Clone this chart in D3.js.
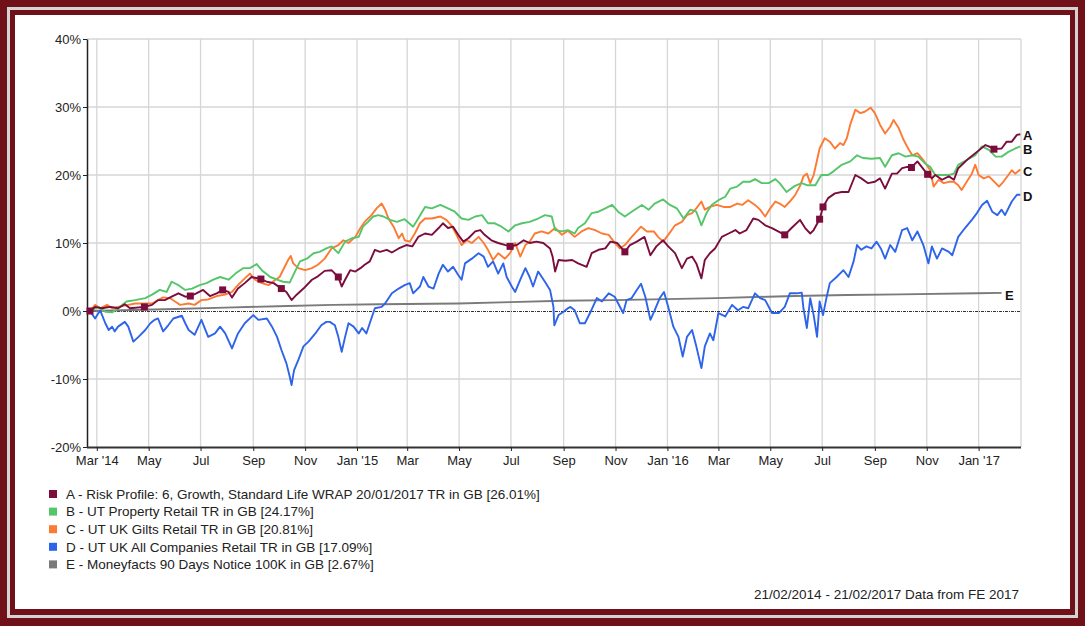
<!DOCTYPE html>
<html><head><meta charset="utf-8">
<script src="https://cdn.jsdelivr.net/npm/d3@7"></script>
<style>html,body{margin:0;padding:0;background:#701018;}svg{display:block;font-family:"Liberation Sans",Arial,sans-serif;}</style>
</head><body>
<svg id="chart" width="1085" height="626"></svg>
<script>
const startDate = "2014-02-21";
const endDate = "2017-02-21";
// [day offset from start, % value]
const seriesA = [[0,0],[6,0.6],[14,0.4],[24,0.6],[33,0.4],[41,1.0],[47,0.4],[64,0.6],[73,0.9],[80,1.6],[88,1.6],[96,2.1],[104,2.6],[112,2.1],[118,2.2],[125,2.6],[133,3.1],[141,2.2],[149,2.6],[156,3.1],[163,2.8],[167,2.0],[174,3.3],[182,4.1],[190,5.0],[201,4.7],[208,4.3],[216,4.1],[225,3.3],[231,2.8],[237,1.6],[243,2.4],[251,3.3],[261,4.6],[268,5.1],[276,5.9],[284,6.0],[292,5.0],[296,3.6],[300,4.6],[306,6.0],[312,5.8],[318,6.3],[323,6.8],[329,7.3],[335,9.0],[341,8.7],[349,9.0],[355,8.6],[363,9.2],[372,9.7],[379,9.5],[386,10.9],[394,11.4],[402,11.2],[410,12.2],[415,12.9],[421,12.2],[427,12.4],[433,11.2],[439,10.2],[445,10.7],[453,11.7],[459,11.9],[464,11.2],[472,10.4],[480,10.0],[494,9.5],[502,9.7],[510,10.4],[517,10.0],[525,10.2],[533,10.0],[541,9.2],[544,8.0],[547,5.8],[551,7.5],[559,7.4],[567,7.5],[574,7.0],[584,6.5],[590,8.5],[598,9.0],[606,9.2],[612,10.2],[620,10.0],[629,8.7],[635,9.7],[643,10.2],[652,10.9],[659,8.2],[666,9.5],[674,10.4],[680,9.5],[688,8.5],[696,6.3],[702,7.7],[708,8.0],[713,7.0],[719,4.8],[723,7.5],[729,8.5],[735,9.2],[743,10.9],[751,11.4],[759,11.9],[764,11.4],[772,11.9],[780,13.6],[786,13.4],[794,12.6],[802,12.2],[817,11.2],[825,12.2],[835,13.4],[841,12.2],[847,11.4],[851,11.9],[858,13.5],[862,15.3],[868,16.6],[876,17.3],[884,17.5],[892,17.5],[900,20.0],[907,19.5],[915,18.8],[923,19.0],[929,19.5],[935,18.0],[943,20.2],[949,20.2],[955,21.0],[961,21.2],[966,21.1],[973,22.0],[978,21.2],[985,20.1],[990,19.5],[994,20.0],[1002,19.3],[1010,19.8],[1016,19.3],[1021,21.0],[1033,22.4],[1043,23.4],[1053,24.4],[1057,24.2],[1063,23.8],[1072,23.9],[1078,24.9],[1084,24.9],[1090,25.9],[1094,26.0]];
const seriesB = [[0,0],[10,0.6],[18,-0.1],[26,-0.2],[33,0.4],[43,1.4],[53,1.6],[65,1.9],[73,2.4],[82,3.1],[90,2.8],[96,4.3],[104,3.8],[112,3.1],[120,3.3],[129,3.8],[137,4.1],[145,4.6],[153,5.0],[163,4.6],[171,5.5],[180,6.3],[188,6.3],[196,6.9],[202,6.0],[212,5.0],[220,4.6],[227,4.3],[235,4.2],[241,5.8],[247,7.3],[255,7.7],[263,8.5],[270,8.7],[278,9.2],[284,9.5],[292,8.5],[300,10.2],[308,10.7],[316,10.9],[321,12.4],[327,13.1],[333,13.9],[339,14.1],[345,13.9],[353,13.4],[361,13.1],[370,13.5],[380,12.4],[386,13.6],[394,15.3],[402,15.1],[412,15.6],[421,15.1],[429,14.6],[437,13.6],[445,13.4],[453,13.9],[461,14.1],[468,12.9],[476,12.9],[484,12.4],[492,11.7],[500,12.6],[508,12.9],[517,13.1],[527,13.6],[535,14.1],[543,13.9],[547,11.9],[555,11.7],[562,11.9],[570,11.4],[574,12.2],[582,12.9],[590,14.4],[598,14.6],[606,15.1],[614,15.6],[621,14.6],[629,13.9],[637,14.6],[649,15.6],[657,14.9],[664,15.8],[674,16.4],[682,15.6],[690,15.1],[698,13.6],[706,14.9],[713,14.6],[719,12.6],[725,14.4],[731,15.6],[739,16.3],[747,16.8],[753,18.0],[761,18.3],[768,19.0],[776,19.0],[782,19.4],[790,18.8],[798,18.8],[806,19.4],[811,18.8],[819,17.5],[829,18.4],[837,18.8],[843,18.5],[853,18.5],[860,20.0],[868,20.0],[874,20.5],[884,21.5],[894,22.0],[902,22.9],[909,22.5],[919,22.4],[929,22.5],[935,21.2],[943,22.9],[951,23.2],[959,22.7],[967,22.9],[974,22.7],[982,21.7],[988,21.2],[994,20.0],[1002,20.0],[1010,20.0],[1016,20.2],[1021,21.5],[1031,22.2],[1041,22.9],[1049,24.2],[1057,23.7],[1065,22.7],[1072,22.7],[1080,23.4],[1088,23.9],[1094,24.2]];
const seriesC = [[0,0],[6,0.9],[12,0.4],[20,0.9],[26,0.4],[33,0.6],[45,0.9],[53,1.1],[63,1.1],[73,1.1],[80,1.6],[86,2.0],[94,1.9],[100,1.4],[106,0.9],[116,1.1],[123,0.9],[131,1.6],[139,1.7],[149,2.2],[159,2.4],[167,2.8],[174,3.8],[182,4.8],[188,5.5],[194,4.6],[202,4.1],[210,3.8],[218,4.6],[223,5.0],[229,6.5],[233,7.5],[236,8.1],[239,7.0],[245,6.3],[253,6.0],[261,6.3],[268,6.8],[276,7.7],[284,9.2],[292,9.7],[298,10.4],[304,10.0],[312,10.9],[318,12.2],[323,13.1],[331,14.1],[337,15.1],[343,15.8],[347,14.9],[351,13.6],[357,12.4],[363,10.7],[367,11.4],[370,10.4],[376,10.2],[382,11.4],[388,12.9],[394,13.6],[402,13.6],[412,13.9],[419,13.4],[425,12.6],[431,11.2],[437,9.7],[443,10.4],[449,10.0],[457,10.9],[463,10.0],[468,9.0],[474,7.5],[480,8.5],[488,7.7],[494,8.5],[500,10.0],[506,8.0],[512,9.7],[517,10.2],[523,11.4],[531,11.7],[539,11.4],[547,12.2],[555,11.2],[562,11.8],[570,10.9],[578,11.7],[586,12.2],[594,11.9],[602,11.4],[610,11.2],[616,10.2],[623,9.2],[629,9.7],[637,10.9],[648,12.4],[655,11.7],[663,11.7],[668,10.9],[674,10.2],[680,11.2],[688,12.6],[696,13.1],[702,14.1],[708,14.4],[713,15.1],[719,16.1],[723,14.9],[729,15.3],[737,15.6],[745,15.3],[753,15.3],[761,15.8],[767,15.6],[774,16.3],[782,15.6],[788,14.9],[794,13.9],[800,15.1],[806,16.1],[811,15.8],[817,15.3],[823,16.1],[829,17.0],[835,18.4],[839,19.8],[843,20.2],[847,18.8],[851,20.0],[855,22.2],[858,23.9],[864,25.4],[870,24.9],[876,23.9],[882,24.7],[886,24.4],[890,25.4],[894,27.4],[900,29.6],[906,29.1],[911,29.3],[918,29.9],[923,29.1],[929,27.4],[935,26.1],[941,27.1],[945,28.1],[951,26.9],[957,25.1],[963,23.7],[967,22.9],[973,23.2],[980,22.2],[988,20.7],[992,18.3],[998,19.3],[1004,18.8],[1010,19.0],[1016,19.0],[1021,18.5],[1025,17.8],[1031,19.0],[1037,20.2],[1041,21.5],[1045,20.0],[1051,19.5],[1057,19.8],[1065,18.8],[1069,18.3],[1074,19.0],[1080,20.0],[1084,20.7],[1088,20.2],[1094,20.8]];
const seriesD = [[0,0],[6,-1.1],[12,0.1],[18,-1.8],[22,-2.8],[26,-2.3],[29,-3.0],[33,-2.3],[41,-1.6],[45,-2.3],[51,-4.5],[57,-3.8],[65,-2.8],[71,-1.8],[76,-1.3],[80,-1.1],[86,-3.0],[92,-2.1],[98,-1.1],[108,-0.7],[112,-1.8],[116,-2.8],[123,-3.5],[131,-1.3],[139,-3.8],[147,-3.3],[153,-2.3],[159,-3.3],[167,-5.5],[174,-3.3],[182,-1.8],[192,-0.6],[198,-1.3],[208,-1.1],[214,-2.3],[220,-3.8],[225,-5.7],[231,-7.7],[235,-9.7],[237,-10.9],[240,-8.7],[245,-7.2],[251,-5.2],[257,-4.5],[265,-3.3],[272,-2.1],[278,-1.6],[282,-1.6],[288,-2.1],[292,-3.8],[296,-6.0],[300,-3.8],[304,-1.8],[310,-2.3],[316,-3.3],[320,-2.5],[325,-3.3],[329,-1.8],[335,0.4],[343,0.6],[347,1.1],[355,2.6],[363,3.3],[370,3.8],[376,4.1],[380,2.6],[388,3.6],[392,5.0],[398,3.6],[404,3.3],[410,5.5],[415,6.8],[421,5.8],[427,6.5],[433,5.3],[437,4.6],[441,7.0],[449,7.7],[457,8.5],[463,8.0],[468,6.5],[474,7.3],[480,5.5],[486,7.0],[490,5.0],[496,3.6],[500,2.8],[506,4.6],[512,6.3],[517,5.0],[521,3.6],[527,5.8],[535,4.3],[541,3.1],[545,0.6],[546,-2.1],[551,-0.6],[557,-0.1],[562,0.4],[565,0.6],[570,0.1],[576,-1.8],[582,-1.8],[588,-0.3],[596,1.9],[602,1.4],[610,2.6],[617,2.1],[627,-0.3],[631,1.6],[637,1.9],[643,3.1],[648,4.0],[653,2.1],[659,-1.3],[664,0.1],[670,1.9],[675,2.8],[680,0.6],[686,-2.3],[692,-3.8],[697,-6.7],[702,-3.8],[708,-2.8],[713,-5.2],[719,-8.4],[723,-5.2],[729,-3.3],[733,-4.3],[739,-0.3],[747,-0.8],[755,0.9],[762,0.1],[768,0.6],[774,0.4],[782,2.6],[788,1.9],[794,1.6],[802,-0.3],[810,-0.3],[817,0.6],[823,2.6],[831,2.6],[837,2.7],[839,0.4],[843,-2.5],[847,1.9],[851,-0.6],[855,-3.8],[858,1.4],[862,-0.6],[866,1.9],[870,4.1],[878,5.0],[886,6.0],[892,5.0],[898,7.3],[902,9.7],[907,9.0],[913,9.5],[919,9.2],[925,10.2],[930,9.2],[935,7.7],[941,9.7],[947,8.7],[955,11.9],[961,12.2],[967,10.4],[973,11.7],[980,9.7],[986,7.0],[990,9.5],[996,7.7],[1002,9.2],[1010,8.7],[1014,8.2],[1021,10.9],[1029,12.2],[1037,13.4],[1043,14.4],[1049,15.6],[1055,16.2],[1061,14.6],[1067,14.1],[1072,14.9],[1076,14.1],[1084,16.1],[1090,17.1],[1094,17.1]];
const seriesE = [[0,0],[100,0.3],[159,0.5],[221,0.7],[286,0.9],[341,1.0],[433,1.1],[494,1.3],[555,1.5],[617,1.6],[737,1.9],[797,2.1],[829,2.2],[890,2.35],[953,2.45],[1043,2.6],[1072,2.67]];
const markersA = [[0,0],[64,0.6],[118,2.2],[156,3.1],[201,4.7],[225,3.3],[292,5.0],[494,9.5],[629,8.7],[817,11.2],[858,13.5],[862,15.3],[966,21.1],[985,20.1],[1063,23.8]];
const seriesKeys = ["A","B","C","D","E"];
const seriesNames = [
  "A - Risk Profile: 6, Growth, Standard Life WRAP 20/01/2017 TR in GB [26.01%]",
  "B - UT Property Retail TR in GB [24.17%]",
  "C - UT UK Gilts Retail TR in GB [20.81%]",
  "D - UT UK All Companies Retail TR in GB [17.09%]",
  "E - Moneyfacts 90 Days Notice 100K in GB [2.67%]"
];
const seriesColors = ["#7b0d3d","#55c56a","#fd7a32","#2e64ea","#7a7a7a"];
const yTicks = [-20,-10,0,10,20,30,40];
const xTickDates = ["2014-03-01","2014-05-01","2014-07-01","2014-09-01","2014-11-01","2015-01-01","2015-03-01","2015-05-01","2015-07-01","2015-09-01","2015-11-01","2016-01-01","2016-03-01","2016-05-01","2016-07-01","2016-09-01","2016-11-01","2017-01-01"];
const xTickLabels = ["Mar '14","May","Jul","Sep","Nov","Jan '15","Mar","May","Jul","Sep","Nov","Jan '16","Mar","May","Jul","Sep","Nov","Jan '17"];
const footer = "21/02/2014 - 21/02/2017 Data from FE 2017";

const parse = d3.utcParse("%Y-%m-%d");
const t0 = parse(startDate);
const toDate = d => d3.utcDay.offset(t0, d);
const svg = d3.select("#chart");
const W = 1085, H = 626;
const FONT = "Liberation Sans, Arial, sans-serif";

// frame
svg.append("rect").attr("x",0).attr("y",0).attr("width",W).attr("height",H).attr("fill","#701018");
svg.append("rect").attr("x",8.5).attr("y",8.5).attr("width",1068).attr("height",608).attr("fill","none").attr("stroke","#d4d4d4").attr("stroke-width",3);
svg.append("rect").attr("x",15).attr("y",15).attr("width",1055).attr("height",594).attr("fill","#fff");

const x = d3.scaleUtc().domain([t0, parse(endDate)]).range([90, 1022]);
const y = d3.scaleLinear().domain([-20, 40]).range([447, 39]);
const plotL = 87, plotR = 1021;

// grid
const g = svg.append("g");
g.selectAll("line.hg").data(yTicks.filter(v=>v!==0 && v!==-20)).join("line")
  .attr("x1",plotL).attr("x2",plotR).attr("y1",d=>y(d)).attr("y2",d=>y(d))
  .attr("stroke","#d6d6d6").attr("stroke-width",1.3);
g.selectAll("line.vg").data(xTickDates).join("line")
  .attr("x1",d=>x(parse(d))).attr("x2",d=>x(parse(d))).attr("y1",39).attr("y2",447)
  .attr("stroke","#d6d6d6").attr("stroke-width",1.3);
g.append("line").attr("x1",plotR).attr("x2",plotR).attr("y1",39).attr("y2",447).attr("stroke","#d6d6d6").attr("stroke-width",1.3);
// zero line
g.append("line").attr("x1",plotL).attr("x2",plotR).attr("y1",y(0)+0.5).attr("y2",y(0)+0.5)
  .attr("stroke","#333").attr("stroke-width",1).attr("stroke-dasharray","3,1,1,1");

// axes
const yAxis = d3.axisLeft(y).tickValues(yTicks).tickFormat(d=>d+"%").tickSize(4).tickSizeOuter(0);
const ya = svg.append("g").attr("transform",`translate(${plotL},0)`).call(yAxis);
ya.select(".domain").attr("stroke","#222").attr("stroke-width",1.5);
ya.selectAll(".tick line").attr("stroke","#222");
ya.selectAll("text").attr("font-family",FONT).attr("font-size",13).attr("fill","#222").attr("dx",1);

const xAxis = d3.axisBottom(x).tickValues(xTickDates.map(parse)).tickFormat((d,i)=>xTickLabels[i]).tickSize(4).tickSizeOuter(0);
const xa = svg.append("g").attr("transform",`translate(0,447)`).call(xAxis);
xa.select(".domain").attr("d",`M${plotL},0.5H${plotR}`).attr("stroke","#333").attr("stroke-width",2);
xa.selectAll(".tick line").attr("stroke","#222");
xa.selectAll("text").attr("font-family",FONT).attr("font-size",13).attr("fill","#222").attr("dy","0.85em");

// lines
const line = d3.line().x(d=>x(toDate(d[0]))).y(d=>y(d[1]));
const allSeries = [seriesA, seriesB, seriesC, seriesD, seriesE];
const order = [4,3,2,1,0];
order.forEach(i=>{
  svg.append("path").datum(allSeries[i]).attr("d",line).attr("fill","none")
    .attr("stroke",seriesColors[i]).attr("stroke-width",1.9).attr("stroke-linejoin","round");
});
svg.selectAll("rect.mk").data(markersA).join("rect")
  .attr("x",d=>x(toDate(d[0]))-3.5).attr("y",d=>y(d[1])-3.5).attr("width",7).attr("height",7)
  .attr("fill",seriesColors[0]);

// end labels
const endLabelY = [135,149,171,196,295];
const endLabelX = [1023,1023,1023,1023,1005];
svg.selectAll("text.endl").data(seriesKeys).join("text")
  .attr("x",(d,i)=>endLabelX[i]).attr("y",(d,i)=>endLabelY[i]).attr("dy","0.35em")
  .attr("font-family",FONT).attr("font-size",13).attr("font-weight","bold").attr("fill","#111").text(d=>d);

// legend
const lg = svg.append("g");
seriesNames.forEach((n,i)=>{
  const cy = 494 + i*17.6;
  lg.append("rect").attr("x",49).attr("y",cy-4).attr("width",8).attr("height",8).attr("fill",seriesColors[i]);
  lg.append("text").attr("x",66).attr("y",cy).attr("dy","0.35em").attr("font-family",FONT).attr("font-size",13.5).attr("fill","#222").text(n);
});
svg.append("text").attr("x",1019).attr("y",594).attr("dy","0.35em").attr("text-anchor","end")
  .attr("font-family",FONT).attr("font-size",13.5).attr("fill","#222").text(footer);
</script>
</body></html>
